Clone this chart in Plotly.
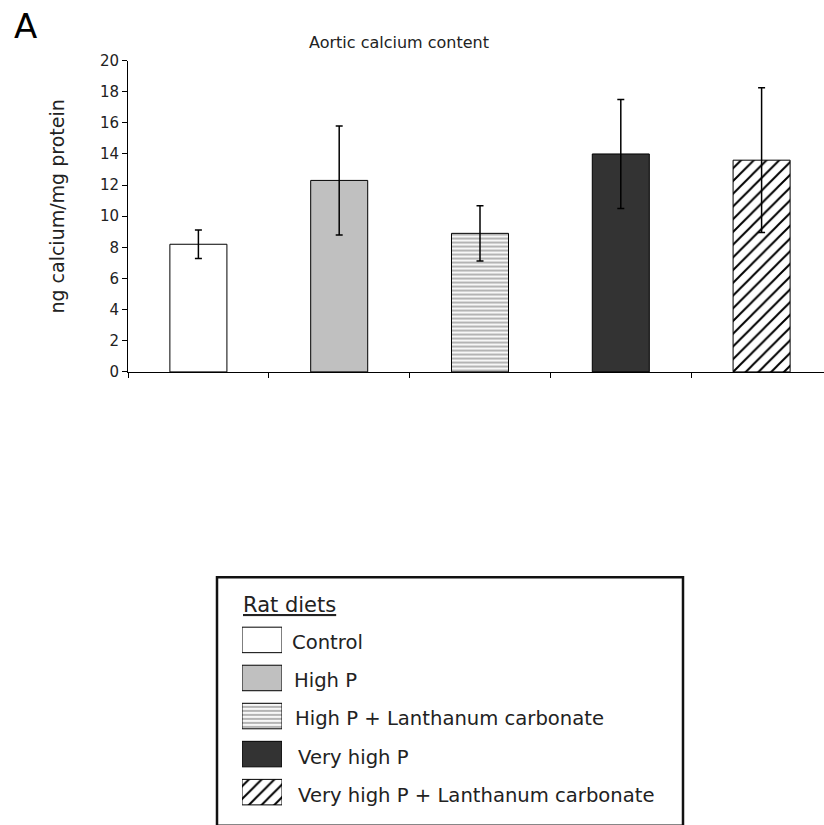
import plotly.graph_objects as go

# Aortic calcium content by rat diet (mean ± error)
groups = [
    "Control",
    "High P",
    "High P + Lanthanum carbonate",
    "Very high P",
    "Very high P + Lanthanum carbonate",
]
means = [8.2, 12.3, 8.9, 14.0, 13.6]
errors = [0.92, 3.5, 1.78, 3.5, 4.65]
y_ticks = [0, 2, 4, 6, 8, 10, 12, 14, 16, 18, 20]

# fill styles per diet
fill_colors = ["white", "#c0c0c0", "white", "#333333", "white"]
pattern_shapes = ["", "", "-", "", "/"]
pattern_fg = ["black", "black", "#b4b4b4", "black", "black"]
pattern_size = [8, 8, 4, 9, 9]
pattern_solidity = [0.3, 0.3, 0.55, 0.3, 0.22]

W, H = 824, 825
FONT = "DejaVu Sans"


def px_x(x):
    return x / W


def px_y(y):
    return 1 - y / H


def marker_for(i):
    m = dict(color=fill_colors[i], line=dict(color="black", width=1))
    if pattern_shapes[i]:
        m["pattern"] = dict(
            shape=pattern_shapes[i],
            fgcolor=pattern_fg[i],
            bgcolor="white",
            size=pattern_size[i],
            solidity=pattern_solidity[i],
            fillmode="replace",
        )
    return m


fig = go.Figure()

for i, name in enumerate(groups):
    # main bar with its error bar
    fig.add_trace(go.Bar(
        x=[i],
        y=[means[i]],
        width=0.405,
        name=name,
        marker=marker_for(i),
        error_y=dict(type="data", array=[errors[i]], visible=True, color="black",
                     thickness=1.5, width=3.5),
        showlegend=False,
        hoverinfo="skip",
        cliponaxis=False,
        xaxis="x", yaxis="y",
    ))
    # legend swatch, a short horizontal bar on a hidden pair of axes
    fig.add_trace(go.Bar(
        x=[1],
        y=[i],
        base=0,
        orientation="h",
        width=0.67,
        name=name,
        marker=marker_for(i),
        showlegend=False,
        hoverinfo="skip",
        cliponaxis=False,
        xaxis="x2", yaxis="y2",
    ))

y_top, y_zero = 52.7, 371
swatch_first, swatch_step = 645, 38.9
lg_top = swatch_first - swatch_step / 2
lg_bottom = swatch_first + swatch_step * 4.5

fig.update_layout(
    width=W, height=H,
    margin=dict(l=0, r=0, t=0, b=0),
    paper_bgcolor="white",
    plot_bgcolor="rgba(0,0,0,0)",
    barmode="overlay",
    font=dict(family=FONT, color="#222222"),
    xaxis=dict(
        domain=[px_x(128), 1],
        range=[-0.5, -0.5 + (W - 128) / 140.8],
        tickmode="array",
        tickvals=[-0.5, 0.5, 1.5, 2.5, 3.5],
        showticklabels=False,
        ticks="outside", ticklen=5, tickcolor="black", tickwidth=1,
        showline=True, linecolor="black", linewidth=1,
        showgrid=False, zeroline=False, fixedrange=True,
    ),
    yaxis=dict(
        domain=[px_y(y_zero), px_y(y_top)],
        range=[0, 20],
        tickmode="array",
        tickvals=y_ticks,
        ticktext=[str(v) for v in y_ticks],
        tickfont=dict(size=15, family=FONT, color="#222222"),
        ticks="outside", ticklen=5, tickcolor="black", tickwidth=1,
        showline=True, linecolor="black", linewidth=1,
        showgrid=False, zeroline=False, fixedrange=True,
    ),
    xaxis2=dict(
        domain=[px_x(242), px_x(282)],
        range=[0, 1],
        visible=False, fixedrange=True,
        anchor="y2",
    ),
    yaxis2=dict(
        domain=[px_y(lg_bottom), px_y(lg_top)],
        range=[4.5, -0.5],
        visible=False, fixedrange=True,
        anchor="x2",
    ),
)

annotations = [
    dict(text="A", x=px_x(25), y=px_y(17), xref="paper", yref="paper",
         showarrow=False, xanchor="center", yanchor="middle",
         font=dict(size=34, family=FONT, color="black")),
    dict(text="Aortic calcium content", x=px_x(399), y=px_y(34),
         xref="paper", yref="paper", showarrow=False,
         xanchor="center", yanchor="middle",
         font=dict(size=16, family=FONT, color="#222222")),
    dict(text="ng calcium/mg protein", x=px_x(57), y=px_y(202),
         xref="paper", yref="paper", showarrow=False, textangle=-90,
         xanchor="center", yanchor="middle",
         font=dict(size=19, family=FONT, color="#222222")),
    dict(text="<span style='text-decoration:underline'>Rat diets</span>",
         x=px_x(241), y=px_y(609), xref="paper", yref="paper",
         showarrow=False, xanchor="left", yanchor="middle",
         font=dict(size=21, family=FONT, color="#222222")),
]
text_x = [290, 292, 293, 296, 296]
for i, name in enumerate(groups):
    annotations.append(dict(
        text=name, x=px_x(text_x[i]), y=px_y(swatch_first + 3 + swatch_step * i),
        xref="paper", yref="paper", showarrow=False,
        xanchor="left", yanchor="middle",
        font=dict(size=19.6, family=FONT, color="#222222"),
    ))
fig.update_layout(annotations=annotations)

# legend frame
fig.add_shape(type="rect", xref="paper", yref="paper",
              x0=px_x(217), x1=px_x(683), y0=px_y(835), y1=px_y(581),
              line=dict(color="#111111", width=2.5), fillcolor="rgba(0,0,0,0)",
              layer="below")

fig.write_html("out.html", config={"displayModeBar": False})
